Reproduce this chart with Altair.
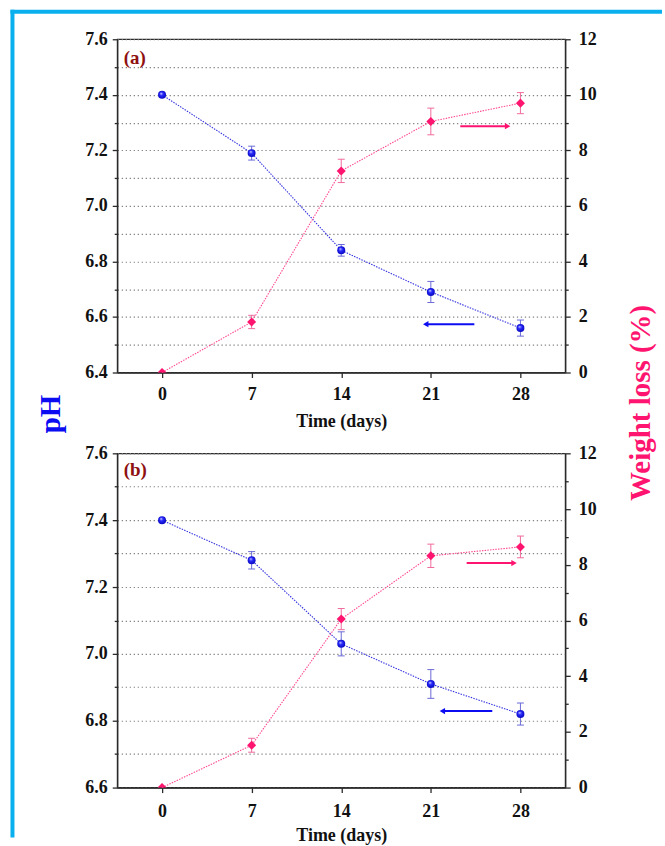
import altair as alt
import pandas as pd

# ---------------- data ----------------
days = [0, 7, 14, 21, 28]

ph_a = [7.40, 7.19, 6.84, 6.69, 6.56]
ph_a_err = [0.0, 0.025, 0.021, 0.038, 0.029]
wl_a = [0.0, 1.82, 7.26, 9.04, 9.70]
wl_a_err = [0.0, 0.24, 0.42, 0.48, 0.38]

ph_b = [7.40, 7.28, 7.03, 6.91, 6.82]
ph_b_err = [0.0, 0.026, 0.036, 0.043, 0.033]
wl_b = [0.0, 1.52, 6.05, 8.32, 8.64]
wl_b_err = [0.0, 0.25, 0.38, 0.42, 0.39]

# arrows: start day, end (head) day, level
arrow_a_ph = [24.4, 20.6, 6.574]
arrow_a_wl = [23.3, 27.0, 8.87]
arrow_b_ph = [25.8, 21.9, 6.829]
arrow_b_wl = [23.8, 27.5, 8.06]

panel_labels = ["(a)", "(b)"]
label_day = -3.0
label_ph = [7.533, 7.55]

ph_ticks_a = [round(6.4 + 0.1 * i, 1) for i in range(13)]
ph_ticks_b = [round(6.6 + 0.1 * i, 1) for i in range(11)]
wl_ticks = list(range(13))

FONT = "Liberation Serif"
BLUE = "#0C0CF2"
BLUE_LINE = "#3535E0"
BLUE_ERR = "#6A6AD8"
PINK = "#FF1470"
PINK_LINE = "#FF4A90"
PINK_ERR = "#F06A9C"
CYAN = "#0AB0EE"
AXC = "#2b2b2b"

X_SCALE = alt.Scale(domain=[-3.5, 31.5], nice=False, zero=False)

ball = alt.RadialGradient(
    gradient="radial",
    stops=[
        alt.GradientStop(offset=0, color="#dfe6ff"),
        alt.GradientStop(offset=0.35, color="#2a2aff"),
        alt.GradientStop(offset=1, color="#0000b0"),
    ],
    x1=0.38, y1=0.32, r1=0, x2=0.5, y2=0.5, r2=0.6,
)

MAJ_PH = "round(datum.value*10) % 2 == 0"
MAJ_WL = "datum.value % 2 == 0"


def panel(ph, ph_err, wl, wl_err, ph_dom, ph_ticks, lab, lab_y,
          arr_ph, arr_wl, height, top, label_pad, title_pad):
    df = pd.DataFrame({
        "day": days,
        "ph": ph,
        "ph_lo": [v - e for v, e in zip(ph, ph_err)],
        "ph_hi": [v + e for v, e in zip(ph, ph_err)],
        "ph_e": ph_err,
        "wl": wl,
        "wl_lo": [v - e for v, e in zip(wl, wl_err)],
        "wl_hi": [v + e for v, e in zip(wl, wl_err)],
        "wl_e": wl_err,
    })
    base = alt.Chart(df)
    ph_scale = alt.Scale(domain=ph_dom, nice=False, zero=False)
    wl_scale = alt.Scale(domain=[0, 12], nice=False, zero=False)

    x_ax = alt.Axis(
        values=days, title="Time (days)", grid=False, tickSize=5,
        labelPadding=label_pad, titlePadding=title_pad, labelFontSize=18,
        titleFontSize=18)

    def xf(field):
        # same axis definition in every layer so the shared axis merges cleanly
        return alt.X(field, scale=X_SCALE, axis=x_ax)

    ph_kw = dict(
        orient="left", values=ph_ticks, grid=True,
        gridDash=[1.3, 2.7], gridColor="#858585", gridWidth=1.15,
        labelExpr=MAJ_PH + " ? format(datum.value, '.1f') : ''",
        tickSize={"condition": {"test": MAJ_PH, "value": 5}, "value": 3},
        labelPadding=5, labelFontSize=18,
    )
    wl_kw = dict(
        orient="right", values=wl_ticks, grid=False,
        labelExpr=MAJ_WL + " ? datum.label : ''",
        tickSize={"condition": {"test": MAJ_WL, "value": 5}, "value": 3},
        labelPadding=8, labelFontSize=18,
    )
    if top:
        ph_axis = alt.Axis(
            title="pH", titleX=-67, titleY=375, titleAngle=270,
            titleAlign="center", titleBaseline="middle", titleColor=BLUE,
            titleFontSize=29, **ph_kw)
        wl_axis = alt.Axis(
            title="Weight loss (%)", titleX=75, titleY=364, titleAngle=270,
            titleAlign="center", titleBaseline="middle", titleColor=PINK,
            titleFontSize=29, **wl_kw)
    else:
        ph_axis = alt.Axis(title=None, **ph_kw)
        wl_axis = alt.Axis(title=None, **wl_kw)

    def yph(field, axis=None):
        return alt.Y(field, scale=ph_scale, axis=axis)

    def ywl(field, axis=None):
        return alt.Y(field, scale=wl_scale, axis=axis)

    ph_f = base.transform_filter("datum.ph_e > 0")
    wl_f = base.transform_filter("datum.wl_e > 0")
    lab_df = pd.DataFrame({"day": [label_day], "ph": [lab_y], "t": [lab]})
    ap = pd.DataFrame({"x0": [arr_ph[0]], "x1": [arr_ph[1]], "y": [arr_ph[2]]})
    aw = pd.DataFrame({"x0": [arr_wl[0]], "x1": [arr_wl[1]], "y": [arr_wl[2]]})

    layers = [
        # pH series
        base.mark_line(color=BLUE_LINE, strokeWidth=1.1, strokeDash=[1.5, 1.2]).encode(
            x=xf("day:Q"), y=yph("ph:Q", ph_axis)),
        # weight-loss series
        base.mark_line(color=PINK_LINE, strokeWidth=1.1, strokeDash=[1.5, 1.2]).encode(
            x=xf("day:Q"), y=ywl("wl:Q", wl_axis)),
        ph_f.mark_rule(color=BLUE_ERR, strokeWidth=1).encode(
            x=xf("day:Q"), y=yph("ph_lo:Q"), y2="ph_hi:Q"),
        ph_f.mark_tick(orient="horizontal", size=7, thickness=1, color=BLUE_ERR,
                       opacity=1).encode(x=xf("day:Q"), y=yph("ph_lo:Q")),
        ph_f.mark_tick(orient="horizontal", size=7, thickness=1, color=BLUE_ERR,
                       opacity=1).encode(x=xf("day:Q"), y=yph("ph_hi:Q")),
        wl_f.mark_rule(color=PINK_ERR, strokeWidth=1).encode(
            x=xf("day:Q"), y=ywl("wl_lo:Q"), y2="wl_hi:Q"),
        wl_f.mark_tick(orient="horizontal", size=7, thickness=1, color=PINK_ERR,
                       opacity=1).encode(x=xf("day:Q"), y=ywl("wl_lo:Q")),
        wl_f.mark_tick(orient="horizontal", size=7, thickness=1, color=PINK_ERR,
                       opacity=1).encode(x=xf("day:Q"), y=ywl("wl_hi:Q")),
        base.mark_point(shape="circle", filled=True, fill=ball, size=64,
                        opacity=1, strokeWidth=0).encode(x=xf("day:Q"), y=yph("ph:Q")),
        base.mark_point(shape="diamond", filled=True, size=82, color=PINK,
                        opacity=1, clip=True).encode(x=xf("day:Q"), y=ywl("wl:Q")),
        alt.Chart(lab_df).mark_text(
            align="left", baseline="middle", font=FONT, fontWeight="bold",
            fontSize=19, color="#8E1010").encode(x=xf("day:Q"), y=yph("ph:Q"), text="t:N"),
        alt.Chart(ap).mark_rule(color=BLUE, strokeWidth=2).encode(
            x=xf("x0:Q"), x2="x1:Q", y=yph("y:Q")),
        alt.Chart(ap).mark_point(shape="triangle-left", filled=True, size=40,
                                 color=BLUE, opacity=1).encode(x=xf("x1:Q"), y=yph("y:Q")),
        alt.Chart(aw).mark_rule(color=PINK, strokeWidth=2).encode(
            x=xf("x0:Q"), x2="x1:Q", y=ywl("y:Q")),
        alt.Chart(aw).mark_point(shape="triangle-right", filled=True, size=40,
                                 color=PINK, opacity=1).encode(x=xf("x1:Q"), y=ywl("y:Q")),
    ]
    if top:
        # decorative cyan frame of the figure
        frame_df = pd.DataFrame({"k": [0]})
        layers += [
            alt.Chart(frame_df).mark_rule(color=CYAN, strokeWidth=4, strokeCap="butt").encode(
                x=alt.value(-105), y=alt.value(-29.5), y2=alt.value(800)),
            alt.Chart(frame_df).mark_rule(color=CYAN, strokeWidth=4, strokeCap="butt").encode(
                x=alt.value(-107), x2=alt.value(546), y=alt.value(-27.5)),
        ]

    return alt.layer(*layers).resolve_scale(y="independent").properties(
        width=449, height=height)


top_chart = panel(ph_a, ph_a_err, wl_a, wl_a_err, [6.4, 7.6], ph_ticks_a,
                  panel_labels[0], label_ph[0], arrow_a_ph, arrow_a_wl,
                  334, True, 8.5, 9)
bottom_chart = panel(ph_b, ph_b_err, wl_b, wl_b_err, [6.6, 7.6], ph_ticks_b,
                     panel_labels[1], label_ph[1], arrow_b_ph, arrow_b_wl,
                     335, False, 9.5, 6.5)

chart = alt.vconcat(top_chart, bottom_chart, spacing=81, bounds="flush").properties(
    padding={"left": 7.5, "top": 5.4, "right": 0, "bottom": 0},
    background="white",
).configure_view(
    stroke=AXC, strokeWidth=1.3,
).configure_axis(
    labelFont=FONT, titleFont=FONT, labelFontWeight="bold",
    titleFontWeight="bold", labelColor="#111", titleColor="#111",
    domainColor=AXC, domainWidth=1.3, tickColor=AXC, tickWidth=1.3,
)

chart.save("out.html", embed_options={"renderer": "svg", "actions": False})
